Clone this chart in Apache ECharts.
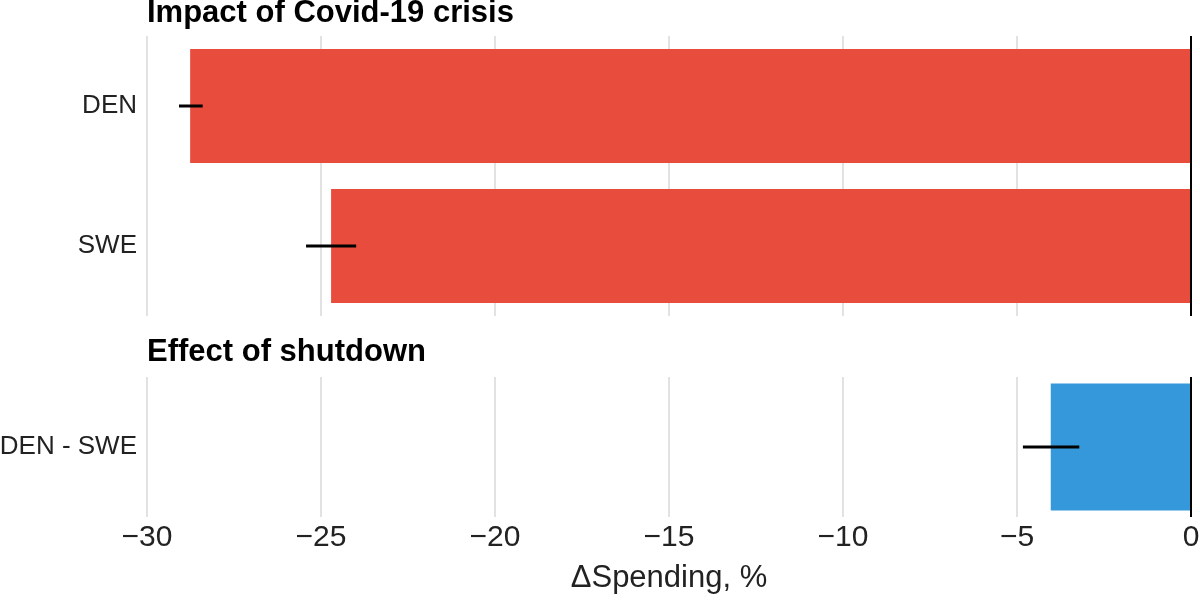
<!DOCTYPE html>
<html>
<head>
<meta charset="utf-8">
<script src="https://cdn.jsdelivr.net/npm/echarts@6/dist/echarts.min.js"></script>
<style>html,body{margin:0;padding:0;background:#fff}#c{width:1200px;height:600px}</style>
</head>
<body>
<div id="c"></div>
<script>
// ---- data ----
const topTitle = 'Impact of Covid-19 crisis';
const bottomTitle = 'Effect of shutdown';
const topCats = ['DEN', 'SWE'];
const topVals = [-28.76, -24.71];
const topLo = [-29.08, -25.43];
const topHi = [-28.40, -23.99];
const botCats = ['DEN - SWE'];
const botVals = [-4.03];
const botLo = [-4.83];
const botHi = [-3.21];
const xTicks = [-30, -25, -20, -15, -10, -5, 0];
const xTitle = '\u0394Spending, %';

const FONT = 'Liberation Sans, Arial, sans-serif';
const chart = echarts.init(document.getElementById('c'));

function errItem(lo, hi) { return lo.map((l, i) => [l, i, hi[i]]); }
function renderErr(params, api) {
  const p1 = api.coord([api.value(0), api.value(1)]);
  const p2 = api.coord([api.value(2), api.value(1)]);
  return { type: 'line', shape: { x1: p1[0], y1: p1[1], x2: p2[0], y2: p2[1] },
           style: { stroke: '#000', lineWidth: 3 } };
}
const zeroLine = { silent: true, symbol: 'none', label: { show: false },
  lineStyle: { color: '#000', width: 2, type: 'solid' }, data: [{ xAxis: 0 }] };

function xAxisCfg(gi, showLabels) {
  return {
    type: 'value', gridIndex: gi, min: xTicks[0], max: xTicks[xTicks.length - 1], interval: 5,
    axisLine: { show: false }, axisTick: { show: false },
    splitLine: { show: true, lineStyle: { color: '#d9d9d9', width: 1.5 } },
    axisLabel: { show: showLabels, fontSize: 30, color: '#222', fontFamily: FONT, margin: 6,
      formatter: v => String(v).replace('-', '\u2212') },
    name: showLabels ? xTitle : '', nameLocation: 'middle', nameGap: 46,
    nameTextStyle: { fontSize: 31, color: '#222', fontFamily: FONT }
  };
}
function yAxisCfg(gi, cats) {
  return {
    type: 'category', gridIndex: gi, data: cats, inverse: true,
    axisLine: { show: false }, axisTick: { show: false }, splitLine: { show: false },
    axisLabel: { fontSize: 26, color: '#222', fontFamily: FONT, margin: 10 }
  };
}

chart.setOption({
  animation: false,
  title: [
    { text: topTitle, left: 147, top: -2, padding: 0,
      textStyle: { fontSize: 31, fontWeight: 'bold', color: '#000', fontFamily: FONT } },
    { text: bottomTitle, left: 147, top: 337, padding: 0,
      textStyle: { fontSize: 31, fontWeight: 'bold', color: '#000', fontFamily: FONT } }
  ],
  grid: [
    { left: 147, right: 9, top: 36, height: 280, containLabel: false, outerBoundsMode: 'none' },
    { left: 147, right: 9, top: 377, height: 140, containLabel: false, outerBoundsMode: 'none' }
  ],
  xAxis: [xAxisCfg(0, false), xAxisCfg(1, true)],
  yAxis: [yAxisCfg(0, topCats), yAxisCfg(1, botCats)],
  series: [
    { type: 'bar', xAxisIndex: 0, yAxisIndex: 0, data: topVals, barWidth: 114,
      itemStyle: { color: '#E74C3C' }, markLine: zeroLine, z: 2 },
    { type: 'custom', xAxisIndex: 0, yAxisIndex: 0, data: errItem(topLo, topHi),
      renderItem: renderErr, encode: { x: [0, 2], y: 1 }, z: 5 },
    { type: 'bar', xAxisIndex: 1, yAxisIndex: 1, data: botVals, barWidth: 127,
      itemStyle: { color: '#3498DB' }, markLine: zeroLine, z: 2 },
    { type: 'custom', xAxisIndex: 1, yAxisIndex: 1, data: errItem(botLo, botHi),
      renderItem: renderErr, encode: { x: [0, 2], y: 1 }, z: 5 }
  ]
});
</script>
</body>
</html>
